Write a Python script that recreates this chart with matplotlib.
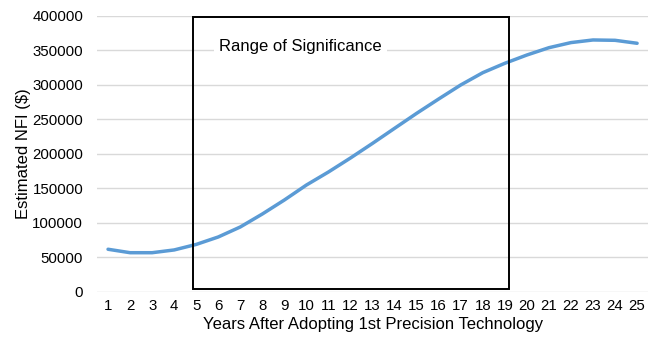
import matplotlib.pyplot as plt
from matplotlib.patches import Rectangle

plt.rcParams['font.family'] = ['Liberation Sans', 'DejaVu Sans']

years = list(range(1, 26))
nfi = [61500, 56500, 56500, 60500, 68500, 79300, 93800, 112600, 132900, 154600,
       173500, 193800, 215000, 236800, 258500, 279300, 299600, 317400, 331000, 343000,
       353600, 361000, 364800, 364300, 360000]
y_ticks = [0, 50000, 100000, 150000, 200000, 250000, 300000, 350000, 400000]

fig = plt.figure(figsize=(6.6, 3.5), dpi=100)
ax = fig.add_axes([0.147, 0.1666, 0.835, 0.7886])

ax.plot(years, nfi, color='#5B9BD5', linewidth=2.5, solid_capstyle='round', zorder=3)

ax.set_xlim(0.5, 25.5)
ax.set_ylim(0, 400000)
ax.set_xticks(years)
ax.set_xticklabels([str(y) for y in years])
ax.set_yticks(y_ticks)
ax.set_yticklabels([str(v) for v in y_ticks])
ax.tick_params(length=0, labelsize=10.8, colors='#000000')
ax.tick_params(axis='x', pad=5)
ax.tick_params(axis='y', pad=10)
ax.grid(axis='y', color='#D9D9D9', linewidth=1)
ax.set_axisbelow(True)
for s in ax.spines.values():
    s.set_visible(False)

ax.set_xlabel('Years After Adopting 1st Precision Technology', fontsize=12, labelpad=3)
ax.set_ylabel('Estimated NFI ($)', fontsize=12, labelpad=1)

# range of significance box
ax.add_patch(Rectangle((4.86, 4500), 19.2 - 4.86, 393500, fill=False,
                       edgecolor='black', linewidth=1.4, zorder=4))
ax.text(6.05, 355000, 'Range of Significance', fontsize=12, va='center', ha='left',
        bbox=dict(facecolor='white', edgecolor='none', pad=4), zorder=2)

fig.savefig('out.png', dpi=100)
